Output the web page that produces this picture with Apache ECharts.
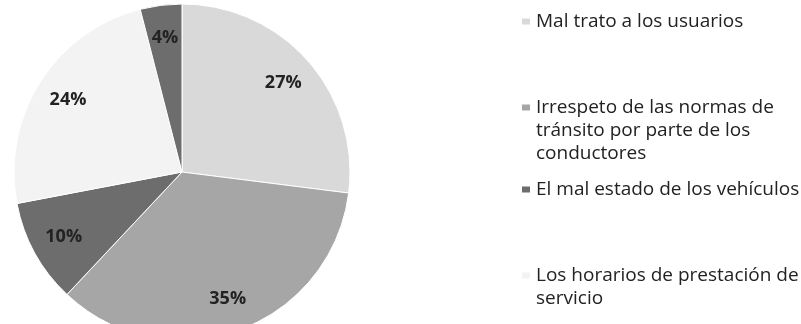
<!DOCTYPE html>
<html>
<head>
<meta charset="utf-8">
<script src="https://cdn.jsdelivr.net/npm/echarts@6/dist/echarts.min.js"></script>
<style>
  html, body { margin: 0; padding: 0; background: #fff; }
  #chart { width: 801px; height: 324px; }
</style>
</head>
<body>
<div id="chart"></div>
<script>
// categories (the 4% slice has no legend entry in the original)
const categories = [
  "Mal trato a los usuarios",
  "Irrespeto de las normas de\ntránsito por parte de los\nconductores",
  "El mal estado de los vehículos",
  "Los horarios de prestación de\nservicio",
  "Otros"
];
const values = [27, 35, 10, 24, 4];
const colors = ["#d9d9d9", "#a6a6a6", "#6d6d6d", "#f3f3f3", "#6d6d6d"];

const chart = echarts.init(document.getElementById("chart"));

const font = "'Open Sans', 'Noto Sans', sans-serif";
const lh = 23;

// one legend per entry so each can sit where the original puts it
const legendTops = [10, 50, 178, 241];
const legends = categories.slice(0, 4).map(function (name, i) {
  const extra = name.split("\n").length - 1;
  return {
    data: [name],
    left: 520,
    top: legendTops[i],
    padding: 0,
    itemWidth: 10,
    itemHeight: 8,
    icon: "rect",
    selectedMode: false,
    // blank lines in front keep the icon level with the first line
    formatter: function (n) {
      return "\n".repeat(extra) + n;
    },
    textStyle: {
      color: "#222",
      fontFamily: font,
      fontSize: 19,
      lineHeight: lh
    }
  };
});

const pieData = categories.map(function (name, i) {
  return { name: name, value: values[i], itemStyle: { color: colors[i] } };
});

const option = {
  animation: false,
  legend: legends,
  series: [
    {
      type: "pie",
      center: [182, 172],
      radius: [0, 168],
      startAngle: 90,
      clockwise: true,
      silent: true,
      label: { show: false },
      labelLine: { show: false },
      itemStyle: { borderColor: "#fff", borderWidth: 1 },
      data: pieData
    },
    {
      // transparent ring only used to place the labels further out
      type: "pie",
      center: [182, 172],
      radius: [96, 168],
      startAngle: 90,
      clockwise: true,
      silent: true,
      itemStyle: { color: "transparent" },
      label: {
        show: true,
        position: "inside",
        formatter: "{c}%",
        color: "#222",
        fontFamily: font,
        fontWeight: "bold",
        fontSize: 18
      },
      labelLine: { show: false },
      data: categories.map(function (name, i) {
        return { name: name, value: values[i] };
      })
    }
  ]
};

chart.setOption(option);
</script>
</body>
</html>
